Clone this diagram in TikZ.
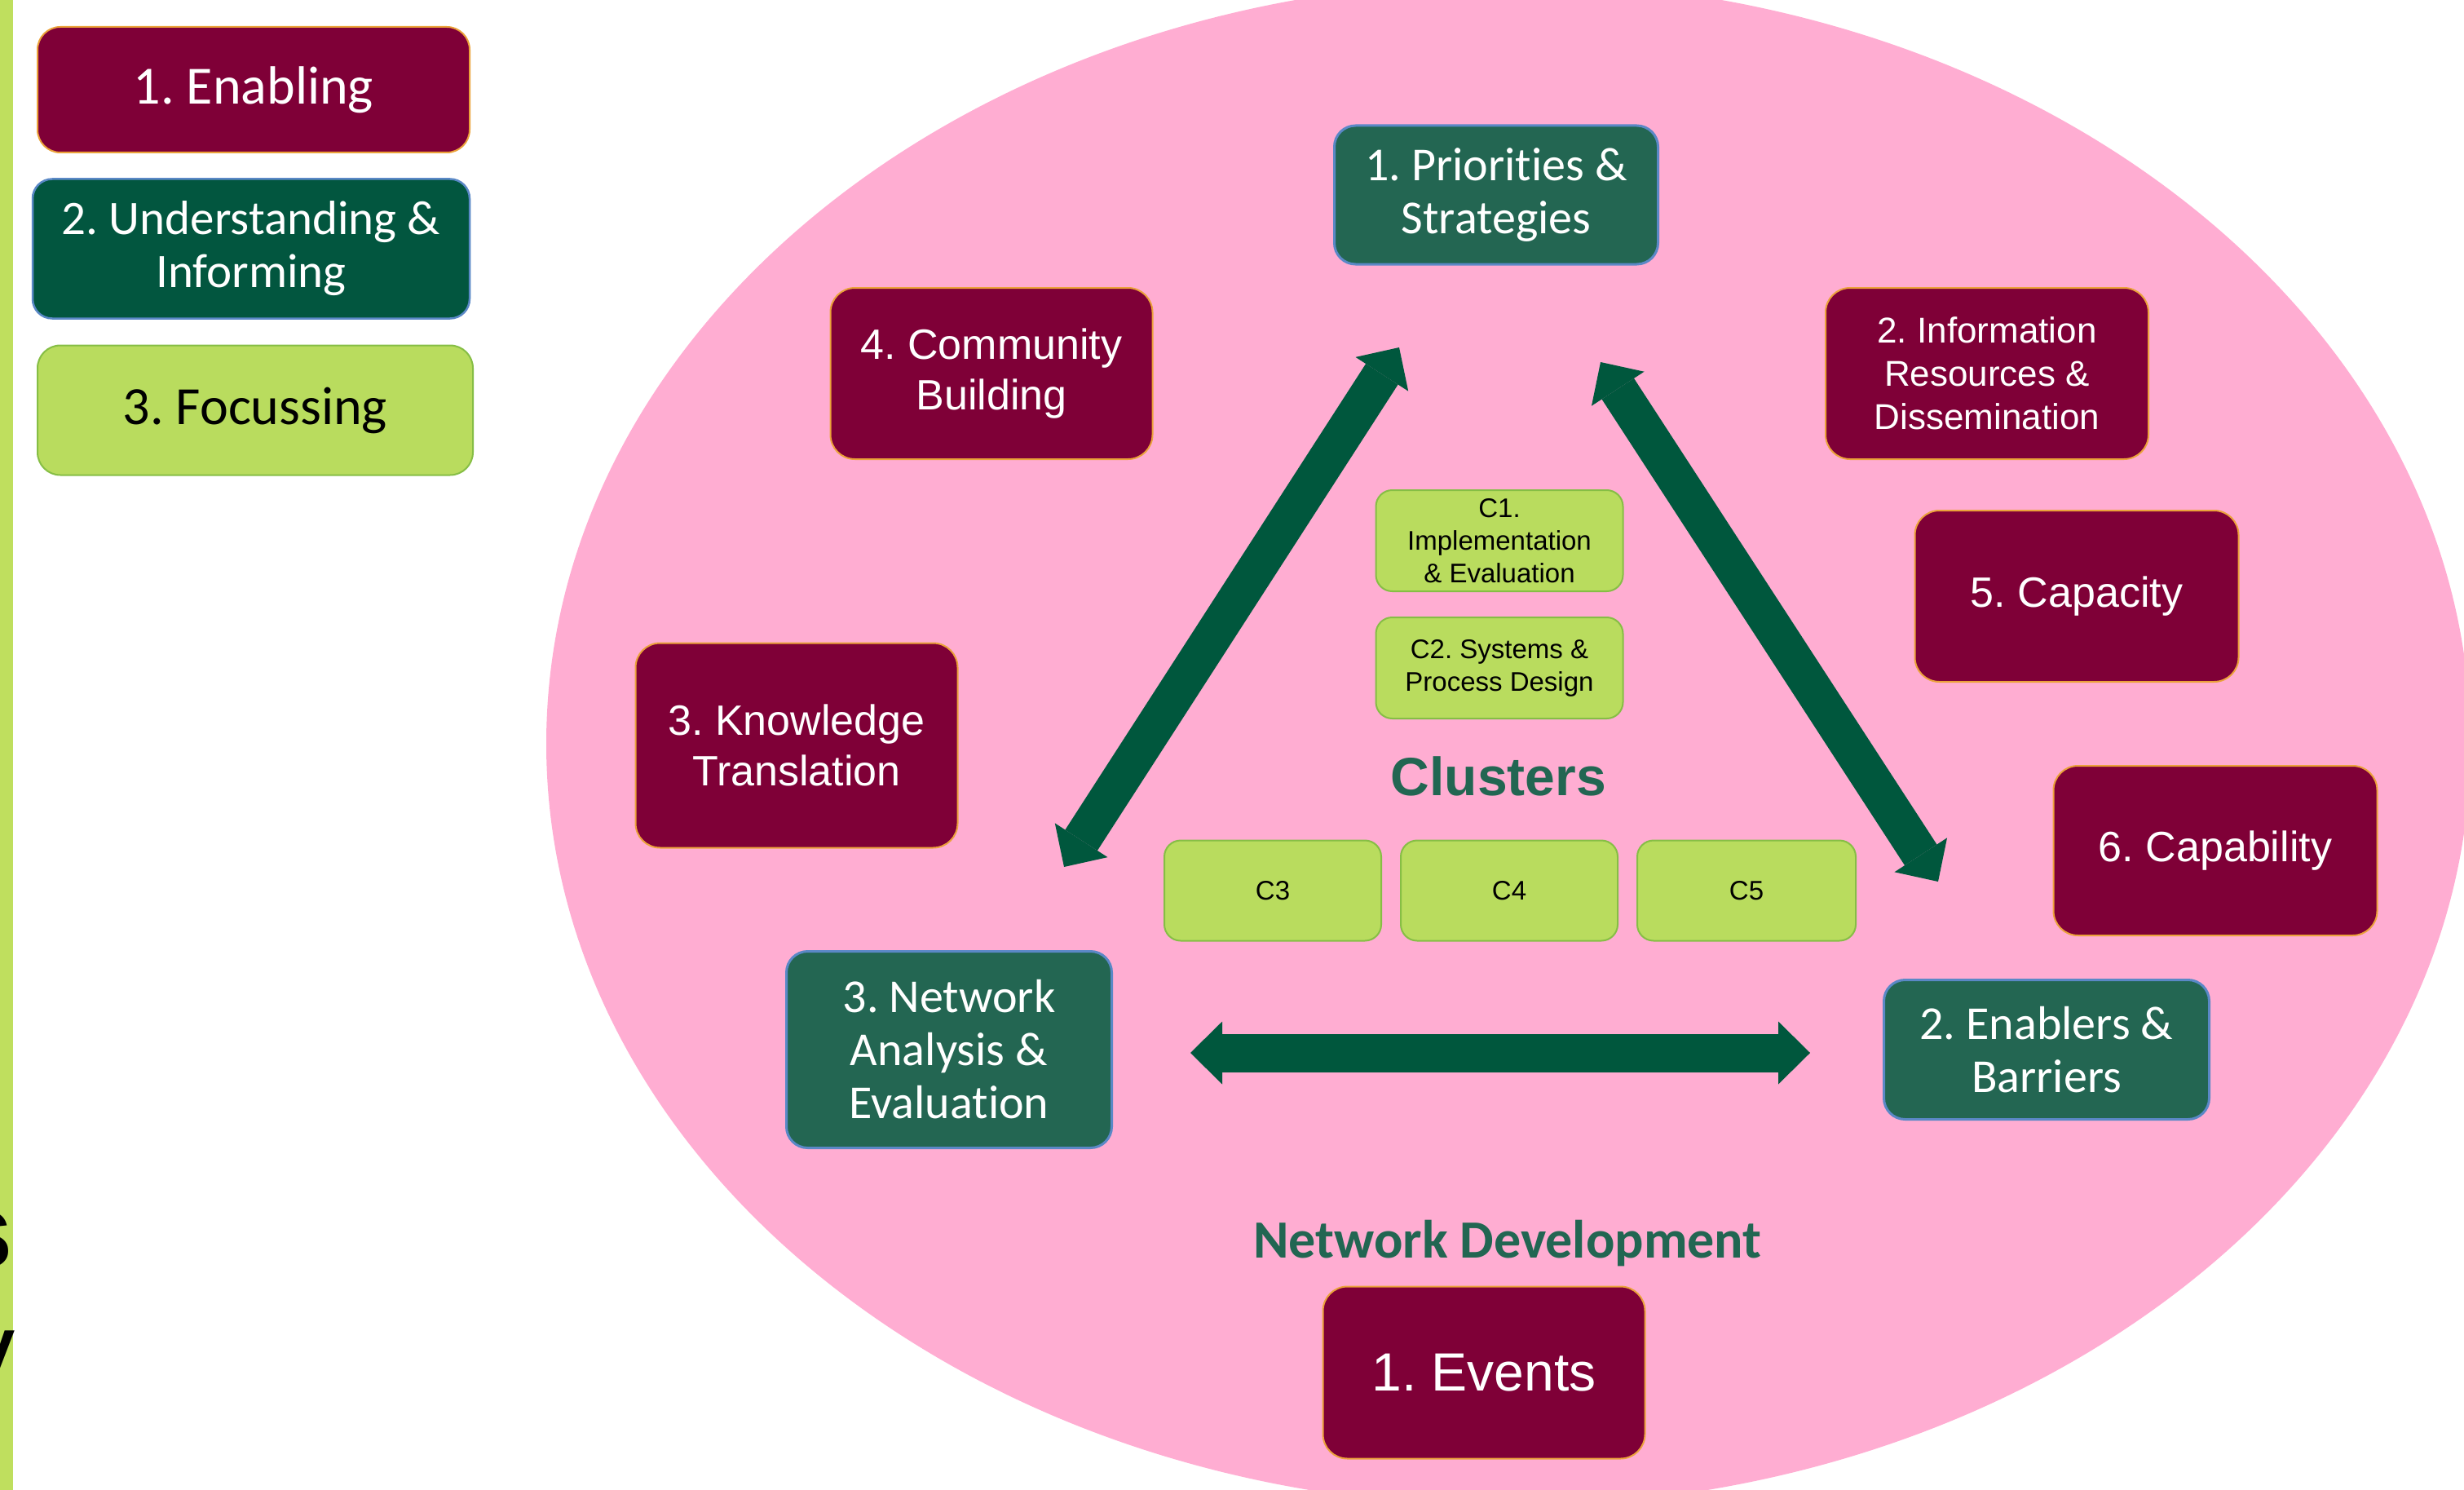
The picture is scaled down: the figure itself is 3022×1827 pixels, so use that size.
\documentclass[tikz,border=0pt]{standalone}
\usepackage{fontspec}
\newfontfamily\calfont[Ligatures=NoCommon]{Carlito}
\newfontfamily\arifont{Liberation Sans}
\usetikzlibrary{arrows.meta}
\newcommand\myfs[2]{\fontsize{#1}{#2}\selectfont}
\definecolor{maroon}{HTML}{7F0037}
\definecolor{mborder}{HTML}{EBA23A}
\definecolor{dgreen}{HTML}{02563F}
\definecolor{mgreen}{HTML}{236652}
\definecolor{gborder}{HTML}{5A88C6}
\definecolor{lgreen}{HTML}{B9DC5E}
\definecolor{lgborder}{HTML}{86BE45}
\definecolor{pinkbg}{HTML}{FFADD2}
\definecolor{arrowgreen}{HTML}{00573D}
\definecolor{barcol}{HTML}{BFDF5E}
\definecolor{tgreen}{HTML}{226652}
\tikzset{
  boxbase/.style={align=center, inner sep=0pt, outer sep=0pt, rounded corners=30pt},
  maroonbox/.style={boxbase, fill=maroon, draw=mborder, line width=2pt, text=white},
  legendgreen/.style={boxbase, fill=dgreen, draw=gborder, line width=2.5pt, text=white, rounded corners=24pt},
  greenbox/.style={boxbase, fill=mgreen, draw=gborder, line width=3pt, text=white, rounded corners=26pt},
  limebox/.style={boxbase, fill=lgreen, draw=lgborder, line width=2pt, text=black, rounded corners=24pt},
  clbox/.style={boxbase, fill=lgreen, draw=lgborder, line width=2pt, text=black, rounded corners=20pt,
     font=\arifont\myfs{33}{40}},
  bigarrow/.style={draw=arrowgreen, line width=47pt,
     {Triangle[length=39pt,width=77pt,line width=0pt]}-{Triangle[length=39pt,width=77pt,line width=0pt]}},
  calw/.style={font=\calfont\myfs{58}{65}},
  ariw/.style={font=\arifont\myfs{52}{62}},
}
\begin{document}
\frenchspacing
\begin{tikzpicture}[x=1pt,y=-1pt]
\useasboundingbox (0,0) rectangle (3022,1827);
\fill[white] (0,0) rectangle (3022,1827);
% left bar with cut text
\fill[barcol] (0,0) rectangle (16,1827);
\node[anchor=base east, inner sep=0pt, font=\arifont\bfseries\myfs{130}{130}] (cuts) at (16,1554) {s};
\node[anchor=base east, inner sep=0pt, font=\arifont\myfs{130}{130}] (cuty) at (19,1700) {y};
% pink ellipse
\fill[pinkbg] (1850,912) ellipse [x radius=1180, y radius=935];

% legend
\node[maroonbox, rounded corners=28pt, minimum width=530pt, minimum height=154pt, font=\calfont\myfs{66}{66}] (lenab) at (311,110) {1. Enabling};
\node[legendgreen, minimum width=536pt, minimum height=171pt, font=\calfont\myfs{59}{65}] (lund) at (308,305) {2. Understanding \&\\Informing};
\node[limebox, rounded corners=28pt, minimum width=534pt, minimum height=159pt, font=\calfont\myfs{66}{66}] (lfoc) at (313,503) {3. Focussing};

% main boxes
\node[greenbox, calw, minimum width=397pt, minimum height=170pt] (prio) at (1835,239) {1. Priorities \&\\Strategies};
\node[maroonbox, ariw, minimum width=395pt, minimum height=210pt] (comm) at (1216,458) {4. Community\\Building};
\node[maroonbox, font=\arifont\myfs{44}{53}, minimum width=396pt, minimum height=210pt] (info) at (2437,458) {2. Information\\Resources \&\\Dissemination};
\node[maroonbox, ariw, minimum width=397pt, minimum height=210pt] (capa) at (2547,731) {5. Capacity};
\node[maroonbox, ariw, minimum width=395pt, minimum height=251pt] (know) at (977,914) {3. Knowledge\\Translation};
\node[maroonbox, ariw, minimum width=397pt, minimum height=208pt] (capb) at (2717,1043) {6. Capability};
\node[greenbox, calw, minimum width=399pt, minimum height=241pt] (netw) at (1164,1287) {3. Network\\Analysis \&\\Evaluation};
\node[greenbox, calw, minimum width=399pt, minimum height=171pt] (enab) at (2510,1287) {2. Enablers \&\\Barriers};
\node[maroonbox, font=\arifont\myfs{66}{66}, minimum width=395pt, minimum height=211pt] (even) at (1820,1683) {1. Events};

% clusters
\node[clbox, minimum width=303pt, minimum height=124pt] (c1) at (1839,663) {C1.\\Implementation\\\& Evaluation};
\node[clbox, minimum width=303pt, minimum height=124pt] (c2) at (1839,819) {C2. Systems \&\\Process Design};
\node[clbox, minimum width=266pt, minimum height=123pt] (c3) at (1561,1092) {C3};
\node[clbox, minimum width=266pt, minimum height=123pt] (c4) at (1851,1092) {C4};
\node[clbox, minimum width=268pt, minimum height=123pt] (c5) at (2142,1092) {C5};

\node[anchor=base, inner sep=0pt, text=tgreen, font=\arifont\bfseries\myfs{66}{66}] (clus) at (1838,975) {Clusters};
\node[anchor=base, inner sep=0pt, text=tgreen, font=\calfont\bfseries\myfs{66}{66}] (ndev) at (1849,1542) {Network Development};

% arrows
\coordinate (a1) at (1305,1063);
\coordinate (a2) at (1716,426);
\coordinate (b1) at (1963,444);
\coordinate (b2) at (2377,1081);
\coordinate (h1) at (1460,1291);
\coordinate (h2) at (2220,1291);
\draw[bigarrow] (a1) -- (a2);
\draw[bigarrow] (b1) -- (b2);
\draw[bigarrow] (h1) -- (h2);
\end{tikzpicture}
\end{document}
